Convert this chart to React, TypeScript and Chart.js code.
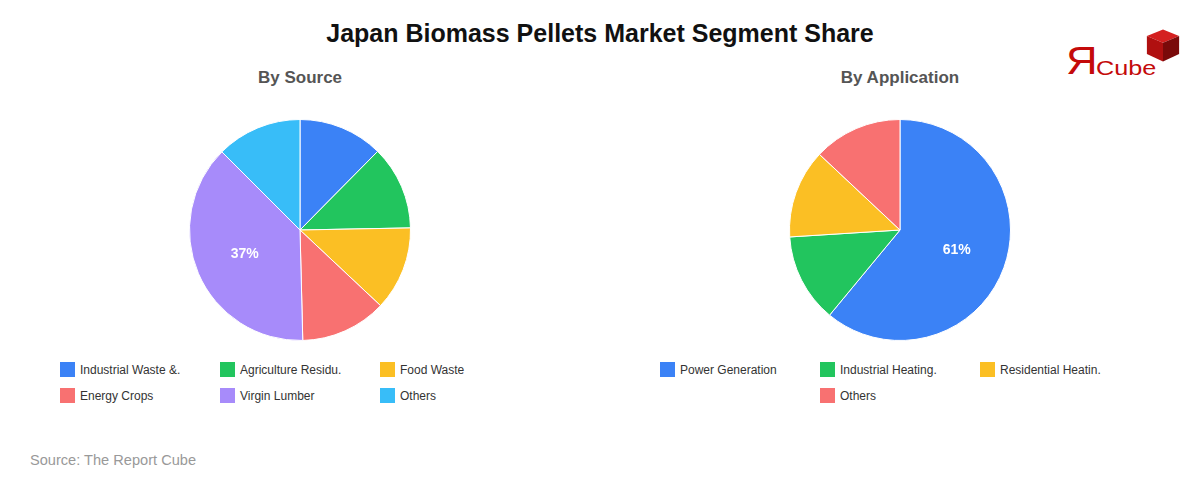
import React, { useEffect, useRef } from "react";
import { Chart, registerables } from "chart.js";

Chart.register(...registerables);

const chartTitle = "Japan Biomass Pellets Market Segment Share";
const sourceTitle = "By Source";
const applicationTitle = "By Application";
const sourceNote = "Source: The Report Cube";

const sourceLabels = ["Industrial Waste &.", "Agriculture Residu.", "Food Waste", "Energy Crops", "Virgin Lumber", "Others"];
const sourceValues = [12.4, 12.3, 12.3, 12.6, 37.9, 12.5];
const sourceColors = ["#3b82f6", "#22c55e", "#fbbf24", "#f87171", "#a78bfa", "#38bdf8"];

const applicationLabels = ["Power Generation", "Industrial Heating.", "Residential Heatin.", "Others"];
const applicationValues = [61, 13, 13, 13];
const applicationColors = ["#3b82f6", "#22c55e", "#fbbf24", "#f87171"];

const FONT = "'Liberation Sans', Arial, Helvetica, sans-serif";

const pctPlugin = {
  id: "pctLabels",
  afterDatasetsDraw(chart: any) {
    const ctx = chart.ctx;
    const meta = chart.getDatasetMeta(0);
    const data = chart.data.datasets[0].data as number[];
    const total = data.reduce((a, b) => a + b, 0);
    meta.data.forEach((arc: any, i: number) => {
      const pct = (data[i] / total) * 100;
      if (pct < 20) return;
      const p = arc.getProps(["x", "y", "startAngle", "endAngle", "outerRadius"], true);
      const mid = (p.startAngle + p.endAngle) / 2;
      const r = p.outerRadius * 0.545;
      ctx.save();
      ctx.fillStyle = "#ffffff";
      ctx.font = `bold 14px ${FONT}`;
      ctx.textAlign = "center";
      ctx.textBaseline = "middle";
      ctx.fillText(Math.floor(pct) + "%", p.x + Math.cos(mid) * r, p.y + Math.sin(mid) * r);
      ctx.restore();
    });
  },
};

function Pie({ labels, values, colors, left }: { labels: string[]; values: number[]; colors: string[]; left: number }) {
  const ref = useRef<HTMLCanvasElement | null>(null);
  useEffect(() => {
    if (!ref.current) return;
    const chart = new Chart(ref.current, {
      type: "pie",
      data: {
        labels,
        datasets: [
          {
            data: values,
            backgroundColor: colors,
            borderColor: "#ffffff",
            borderWidth: 1,
          },
        ],
      },
      options: {
        responsive: false,
        animation: false,
        layout: { padding: 0 },
        plugins: { legend: { display: false }, tooltip: { enabled: false } },
      },
      plugins: [pctPlugin],
    });
    return () => chart.destroy();
  }, []);
  return (
    <canvas
      ref={ref}
      width={222}
      height={222}
      style={{ position: "absolute", left: left - 111, top: 119, width: 222, height: 222 }}
    />
  );
}

function Legend({ labels, colors, left }: { labels: string[]; colors: string[]; left: number }) {
  return (
    <div
      style={{
        position: "absolute",
        left,
        top: 360,
        width: 480,
        display: "flex",
        flexWrap: "wrap",
        justifyContent: "center",
        rowGap: 7,
      }}
    >
      {labels.map((l, i) => (
        <div
          key={l}
          style={{
            width: 160,
            display: "flex",
            alignItems: "center",
            height: 19,
            whiteSpace: "nowrap",
          }}
        >
          <span style={{ display: "inline-block", width: 15, height: 15, background: colors[i], marginRight: 5, flex: "none" }} />
          <span style={{ fontSize: 12, color: "#333", fontFamily: FONT }}>{l}</span>
        </div>
      ))}
    </div>
  );
}

function Logo() {
  return (
    <div style={{ position: "absolute", left: 1062, top: 26, width: 125, height: 55 }}>
      <span
        style={{
          position: "absolute",
          left: 4,
          top: 16,
          fontFamily: FONT,
          fontSize: 38,
          lineHeight: "38px",
          color: "#c40a0a",
          transform: "scaleX(1.15)",
          transformOrigin: "left top",
        }}
      >
        Я
      </span>
      <span
        style={{
          position: "absolute",
          left: 34,
          top: 30,
          fontFamily: FONT,
          fontSize: 21,
          lineHeight: "24px",
          color: "#c40a0a",
          transform: "scaleX(1.2)",
          transformOrigin: "left top",
        }}
      >
        Cube
      </span>
      <svg style={{ position: "absolute", left: 83, top: 1 }} width="36" height="37" viewBox="0 0 38 38">
        <polygon points="19,2 36,9 19,16 2,9" fill="#d42020" />
        <polygon points="2,9 19,16 19,36 2,28" fill="#b01010" />
        <polygon points="19,16 36,9 36,28 19,36" fill="#7a0a0a" />
      </svg>
    </div>
  );
}

export default function App() {
  return (
    <div
      style={{
        position: "fixed",
        left: 0,
        top: 0,
        width: 1200,
        height: 480,
        background: "#ffffff",
        fontFamily: FONT,
        overflow: "hidden",
      }}
    >
      <div
        style={{
          position: "absolute",
          left: 0,
          top: 18,
          width: 1200,
          textAlign: "center",
          fontSize: 25,
          fontWeight: "bold",
          color: "#111",
          lineHeight: "30px",
        }}
      >
        {chartTitle}
      </div>
      <div style={{ position: "absolute", left: 0, top: 68, width: 600, textAlign: "center", fontSize: 17, fontWeight: "bold", color: "#555", lineHeight: "20px" }}>
        {sourceTitle}
      </div>
      <div style={{ position: "absolute", left: 600, top: 68, width: 600, textAlign: "center", fontSize: 17, fontWeight: "bold", color: "#555", lineHeight: "20px" }}>
        {applicationTitle}
      </div>
      <Logo />
      <Pie labels={sourceLabels} values={sourceValues} colors={sourceColors} left={300} />
      <Pie labels={applicationLabels} values={applicationValues} colors={applicationColors} left={900} />
      <Legend labels={sourceLabels} colors={sourceColors} left={60} />
      <Legend labels={applicationLabels} colors={applicationColors} left={660} />
      <div style={{ position: "absolute", left: 30, top: 450, fontSize: 14.6, color: "#999", lineHeight: "20px" }}>{sourceNote}</div>
    </div>
  );
}
